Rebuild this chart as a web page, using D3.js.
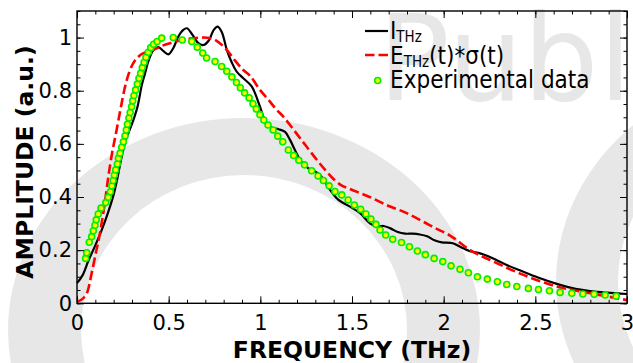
<!DOCTYPE html>
<html>
<head>
<meta charset="utf-8">
<script src="https://cdn.jsdelivr.net/npm/d3@7"></script>
<style>
  body { margin: 0; background: #fff; }
  svg { display: block; }
</style>
</head>
<body>
<div id="chart"></div>
<script>
const width = 633;
const height = 363;
const marginTop = 11;
const marginBottom = 60;
const marginLeft = 77;
const marginRight = 6;

// experimental data (green dots)
const expFreq = [0.047, 0.053, 0.067, 0.080, 0.089, 0.098, 0.105, 0.116, 0.131, 0.157,
  0.171, 0.182, 0.190, 0.197, 0.204, 0.211, 0.220, 0.226, 0.235, 0.244,
  0.253, 0.262, 0.269, 0.275, 0.283, 0.290, 0.298, 0.304, 0.311, 0.320,
  0.329, 0.338, 0.347, 0.356, 0.366, 0.376, 0.389, 0.402, 0.418, 0.437,
  0.462, 0.525, 0.574, 0.626, 0.656, 0.686, 0.707, 0.753, 0.789, 0.817,
  0.845, 0.870, 0.891, 0.914, 0.939, 0.960, 0.978, 0.998, 1.019, 1.042,
  1.070, 1.095, 1.122, 1.153, 1.182, 1.210, 1.241, 1.280, 1.315, 1.344,
  1.375, 1.407, 1.444, 1.479, 1.513, 1.547, 1.576, 1.603, 1.631, 1.653,
  1.684, 1.722, 1.770, 1.813, 1.857, 1.900, 1.948, 1.995, 2.040, 2.089,
  2.135, 2.184, 2.238, 2.293, 2.344, 2.399, 2.462, 2.517, 2.577, 2.635,
  2.699, 2.759, 2.821, 2.881, 2.941];
const expAmp = [0.169, 0.190, 0.230, 0.251, 0.273, 0.294, 0.314, 0.336, 0.358, 0.379,
  0.399, 0.420, 0.442, 0.462, 0.483, 0.502, 0.524, 0.546, 0.565, 0.587,
  0.608, 0.630, 0.652, 0.674, 0.697, 0.718, 0.740, 0.762, 0.782, 0.803,
  0.825, 0.847, 0.866, 0.887, 0.907, 0.926, 0.945, 0.962, 0.975, 0.985,
  0.998, 1.000, 0.991, 0.985, 0.964, 0.942, 0.923, 0.910, 0.891, 0.873,
  0.852, 0.831, 0.811, 0.792, 0.773, 0.751, 0.731, 0.710, 0.690, 0.671,
  0.652, 0.629, 0.608, 0.577, 0.556, 0.538, 0.521, 0.499, 0.479, 0.462,
  0.442, 0.421, 0.408, 0.389, 0.370, 0.354, 0.336, 0.317, 0.297, 0.276,
  0.257, 0.241, 0.229, 0.213, 0.197, 0.183, 0.169, 0.157, 0.141, 0.128,
  0.115, 0.100, 0.091, 0.081, 0.071, 0.063, 0.056, 0.052, 0.047, 0.041,
  0.038, 0.035, 0.034, 0.031, 0.027];

// I_THz (black solid)
const iFreq = [0.0, 0.03, 0.062, 0.098, 0.135, 0.171, 0.2, 0.22, 0.245, 0.271,
  0.3, 0.33, 0.353, 0.371, 0.389, 0.416, 0.444, 0.47, 0.498, 0.525,
  0.553, 0.58, 0.6, 0.63, 0.66, 0.69, 0.72, 0.745, 0.767, 0.79,
  0.817, 0.845, 0.871, 0.907, 0.953, 0.998, 1.035, 1.065, 1.1, 1.135,
  1.162, 1.19, 1.217, 1.262, 1.3, 1.326, 1.38, 1.426, 1.489, 1.544,
  1.598, 1.635, 1.671, 1.71, 1.75, 1.79, 1.83, 1.87, 1.91, 1.95,
  1.99, 2.05, 2.1, 2.144, 2.199, 2.24, 2.29, 2.344, 2.435, 2.526,
  2.617, 2.708, 2.799, 2.89, 3.0];
const iAmp = [0.076, 0.105, 0.160, 0.215, 0.276, 0.345, 0.41, 0.47, 0.555, 0.625,
  0.675, 0.74, 0.82, 0.865, 0.91, 0.952, 0.964, 0.95, 0.937, 0.96,
  1.004, 1.029, 1.035, 1.01, 0.98, 0.972, 0.99, 1.028, 1.041, 1.02,
  0.954, 0.905, 0.872, 0.847, 0.816, 0.74, 0.672, 0.66, 0.655, 0.645,
  0.615, 0.575, 0.54, 0.508, 0.495, 0.483, 0.427, 0.389, 0.364, 0.339,
  0.301, 0.289, 0.291, 0.282, 0.268, 0.262, 0.262, 0.259, 0.252, 0.237,
  0.229, 0.226, 0.209, 0.196, 0.188, 0.178, 0.162, 0.144, 0.119, 0.094,
  0.073, 0.056, 0.046, 0.040, 0.035];

// E_THz(t)*sigma(t) (red dashed)
const eFreq = [0.0, 0.034, 0.06, 0.08, 0.1, 0.125, 0.15, 0.171, 0.19, 0.216,
  0.24, 0.262, 0.285, 0.307, 0.335, 0.362, 0.416, 0.46, 0.507, 0.598,
  0.689, 0.744, 0.78, 0.817, 0.86, 0.907, 0.944, 0.998, 1.045, 1.089,
  1.125, 1.162, 1.217, 1.263, 1.308, 1.35, 1.399, 1.44, 1.489, 1.58,
  1.708, 1.78, 1.889, 1.962, 2.035, 2.144, 2.253, 2.435, 2.617, 2.8,
  3.0];
const eAmp = [0.006, 0.019, 0.05, 0.113, 0.18, 0.264, 0.37, 0.477, 0.56, 0.652,
  0.74, 0.815, 0.87, 0.904, 0.928, 0.941, 0.954, 0.968, 0.979, 0.994,
  1.0, 0.994, 0.978, 0.954, 0.915, 0.878, 0.856, 0.803, 0.765, 0.728,
  0.703, 0.671, 0.621, 0.58, 0.54, 0.505, 0.468, 0.445, 0.43, 0.405,
  0.364, 0.345, 0.307, 0.28, 0.255, 0.2, 0.163, 0.107, 0.063, 0.038,
  0.012];

const xTicks = [0, 0.5, 1, 1.5, 2, 2.5, 3];
const xTickLabels = ['0', '0.5', '1', '1.5', '2', '2.5', '3'];
const yTicks = [0, 0.2, 0.4, 0.6, 0.8, 1];
const yTickLabels = ['0', '0.2', '0.4', '0.6', '0.8', '1'];
const xMinor = d3.range(0, 31).map((i) => i / 10);
const yMinor = d3.range(0, 23).map((i) => i / 20);

const svg = d3.select('#chart')
    .append('svg')
    .attr('width', width)
    .attr('height', height);

// watermark behind everything
const wm = '#e7e7e7';
function ring(cx, cy, rx, ry, irx, iry) {
    const e = (a, b, c, d) => `M${a - c},${b}a${c},${d} 0 1,0 ${2 * c},0a${c},${d} 0 1,0 ${-2 * c},0Z`;
    return e(cx, cy, rx, ry) + e(cx, cy, irx, iry);
}
svg.append('path')
    .attr('d', ring(244, 330, 236, 212, 163, 155))
    .attr('fill', wm)
    .attr('fill-rule', 'evenodd');
svg.append('path')
    .attr('d', ring(792, 282, 236, 212, 174, 160))
    .attr('fill', wm)
    .attr('fill-rule', 'evenodd');
svg.append('text')
    .attr('x', 378)
    .attr('y', 100)
    .text('Publ')
    .style('font-family', 'DejaVu Sans')
    .style('font-size', '119px')
    .attr('fill', wm);

const x = d3.scaleLinear()
    .domain([0, 3])
    .range([marginLeft, width - marginRight]);

const y = d3.scaleLinear()
    .domain([0, 1.1])
    .range([303.3, marginTop]);

const lineI = d3.line()
    .x((d) => x(d[0]))
    .y((d) => y(d[1]))
    .curve(d3.curveCatmullRom.alpha(0.5));

const lineE = d3.line()
    .x((d) => x(d[0]))
    .y((d) => y(d[1]))
    .curve(d3.curveMonotoneX);

svg.append('path')
    .datum(d3.zip(iFreq, iAmp))
    .attr('d', lineI)
    .attr('fill', 'none')
    .attr('stroke', 'black')
    .attr('stroke-width', 2.2);

svg.append('path')
    .datum(d3.zip(eFreq, eAmp))
    .attr('d', lineE)
    .attr('fill', 'none')
    .attr('stroke', 'red')
    .attr('stroke-width', 2.6)
    .attr('stroke-dasharray', '9.5,4');

svg.selectAll()
    .data(d3.zip(expFreq, expAmp))
    .enter()
    .append('circle')
    .attr('cx', (d) => x(d[0]))
    .attr('cy', (d) => y(d[1]))
    .attr('r', 3)
    .attr('fill', 'yellow')
    .attr('stroke', '#00ee00')
    .attr('stroke-width', 1.6);

// axes: ticks inside on all four sides
const fontTick = 'DejaVu Sans';
function styleAxis(g) {
    g.select('.domain').remove();
    g.selectAll('line').attr('stroke', 'black').attr('stroke-width', 1);
    g.selectAll('text')
        .style('font-family', fontTick)
        .style('font-size', '21px')
        .attr('fill', 'black');
}

svg.append('g')
    .attr('transform', `translate(0,${y(0)})`)
    .call(d3.axisBottom(x).tickValues(xMinor).tickSize(-3.5).tickFormat(''))
    .call(styleAxis);
svg.append('g')
    .attr('transform', `translate(0,${y(0)})`)
    .call(d3.axisBottom(x).tickValues(xTicks).tickSize(-7).tickPadding(12)
        .tickFormat((d, i) => xTickLabels[i]))
    .call(styleAxis);
svg.append('g')
    .attr('transform', `translate(0,${marginTop})`)
    .call(d3.axisTop(x).tickValues(xMinor).tickSize(-3.5).tickFormat(''))
    .call(styleAxis);
svg.append('g')
    .attr('transform', `translate(0,${marginTop})`)
    .call(d3.axisTop(x).tickValues(xTicks).tickSize(-7).tickFormat(''))
    .call(styleAxis);

svg.append('g')
    .attr('transform', `translate(${marginLeft},0)`)
    .call(d3.axisLeft(y).tickValues(yMinor).tickSize(-3.5).tickFormat(''))
    .call(styleAxis);
svg.append('g')
    .attr('transform', `translate(${marginLeft},0)`)
    .call(d3.axisLeft(y).tickValues(yTicks).tickSize(-7).tickPadding(5)
        .tickFormat((d, i) => yTickLabels[i]))
    .call(styleAxis);
svg.append('g')
    .attr('transform', `translate(${width - marginRight},0)`)
    .call(d3.axisRight(y).tickValues(yMinor).tickSize(-3.5).tickFormat(''))
    .call(styleAxis);
svg.append('g')
    .attr('transform', `translate(${width - marginRight},0)`)
    .call(d3.axisRight(y).tickValues(yTicks).tickSize(-7).tickFormat(''))
    .call(styleAxis);

svg.append('rect')
    .attr('x', marginLeft)
    .attr('y', marginTop)
    .attr('width', width - marginRight - marginLeft)
    .attr('height', y(0) - marginTop)
    .attr('fill', 'none')
    .attr('stroke', 'black')
    .attr('stroke-width', 1.4);

svg.append('text')
    .attr('x', (marginLeft + width - marginRight) / 2)
    .attr('y', 358)
    .text('FREQUENCY (THz)')
    .style('font-family', 'DejaVu Sans')
    .style('font-weight', 'bold')
    .style('font-size', '23.5px')
    .style('text-anchor', 'middle');

svg.append('text')
    .attr('transform', 'rotate(-90)')
    .attr('x', -162)
    .attr('y', 33)
    .text('AMPLITUDE (a.u.)')
    .style('font-family', 'DejaVu Sans')
    .style('font-weight', 'bold')
    .style('font-size', '23.5px')
    .style('text-anchor', 'middle');

// legend
const legend = svg.append('g').attr('class', 'legend');
legend.append('line')
    .attr('x1', 365).attr('x2', 388).attr('y1', 31).attr('y2', 31)
    .attr('stroke', 'black').attr('stroke-width', 2.2);
legend.append('line')
    .attr('x1', 365).attr('x2', 388).attr('y1', 55).attr('y2', 55)
    .attr('stroke', 'red').attr('stroke-width', 2.6)
    .attr('stroke-dasharray', '9.5,4');
legend.append('circle')
    .attr('cx', 377.7).attr('cy', 80.5).attr('r', 3)
    .attr('fill', 'yellow').attr('stroke', '#00ee00').attr('stroke-width', 1.6);

function legendText(baseline) {
    return legend.append('g')
        .attr('transform', `translate(390,${baseline}) scale(0.9,1)`)
        .append('text')
        .style('font-family', 'DejaVu Sans')
        .style('font-size', '24px')
        .attr('fill', 'black');
}
const t1 = legendText(39);
t1.append('tspan').text('I');
t1.append('tspan').text('THz').attr('dy', 3).style('font-size', '15px');

const t2 = legendText(63.5);
t2.append('tspan').text('E');
t2.append('tspan').text('THz').attr('dy', 3).style('font-size', '15px');
t2.append('tspan').text('(t)*σ(t)').attr('dy', -3);

const t3 = legendText(87.5);
t3.text('Experimental data');
</script>
</body>
</html>
